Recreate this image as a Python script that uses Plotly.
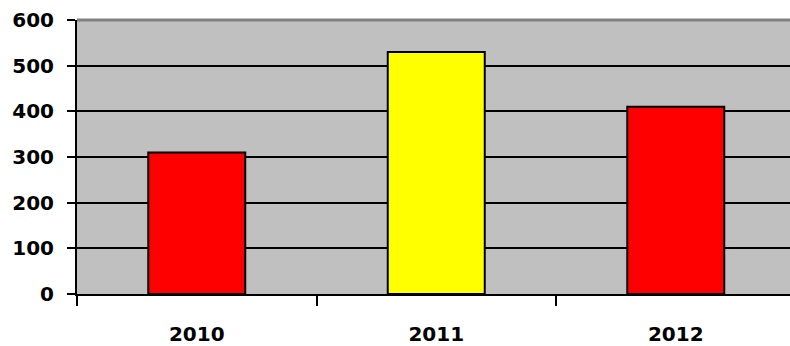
import plotly.graph_objects as go

years = ["2010", "2011", "2012"]
values = [310, 530, 410]
bar_colors = ["#ff0000", "#ffff00", "#ff0000"]
y_ticks = [0, 100, 200, 300, 400, 500, 600]

label_font = dict(family="DejaVu Sans", size=20, color="#000000", weight="bold")

fig = go.Figure(
    go.Bar(
        x=years,
        y=values,
        marker=dict(color=bar_colors, line=dict(color="#000000", width=2)),
        width=0.405,
    )
)

fig.update_layout(
    width=790,
    height=346,
    margin=dict(l=77, r=0, t=20, b=52),
    paper_bgcolor="#ffffff",
    plot_bgcolor="#c0c0c0",
    showlegend=False,
    font=label_font,
)

fig.update_xaxes(
    type="category",
    range=[-0.5, 2.477],
    tickson="boundaries",
    ticks="outside",
    ticklen=10,
    tickwidth=2,
    tickcolor="#000000",
    showline=True,
    linecolor="#000000",
    linewidth=2,
    showgrid=False,
    tickfont=label_font,
    ticklabelstandoff=21,
)

fig.update_yaxes(
    range=[0, 600],
    tickvals=y_ticks,
    ticks="outside",
    ticklen=8,
    tickwidth=2,
    tickcolor="#000000",
    showline=True,
    linecolor="#000000",
    linewidth=2,
    showgrid=True,
    gridcolor="#000000",
    gridwidth=2,
    zeroline=False,
    tickfont=label_font,
    ticklabelstandoff=9,
)

# grey frame line along the top of the plot area
fig.add_shape(
    type="line",
    xref="paper", yref="paper",
    x0=0, x1=1, y0=1, y1=1,
    line=dict(color="#808080", width=3),
    layer="above",
)

fig.write_html("out.html")
